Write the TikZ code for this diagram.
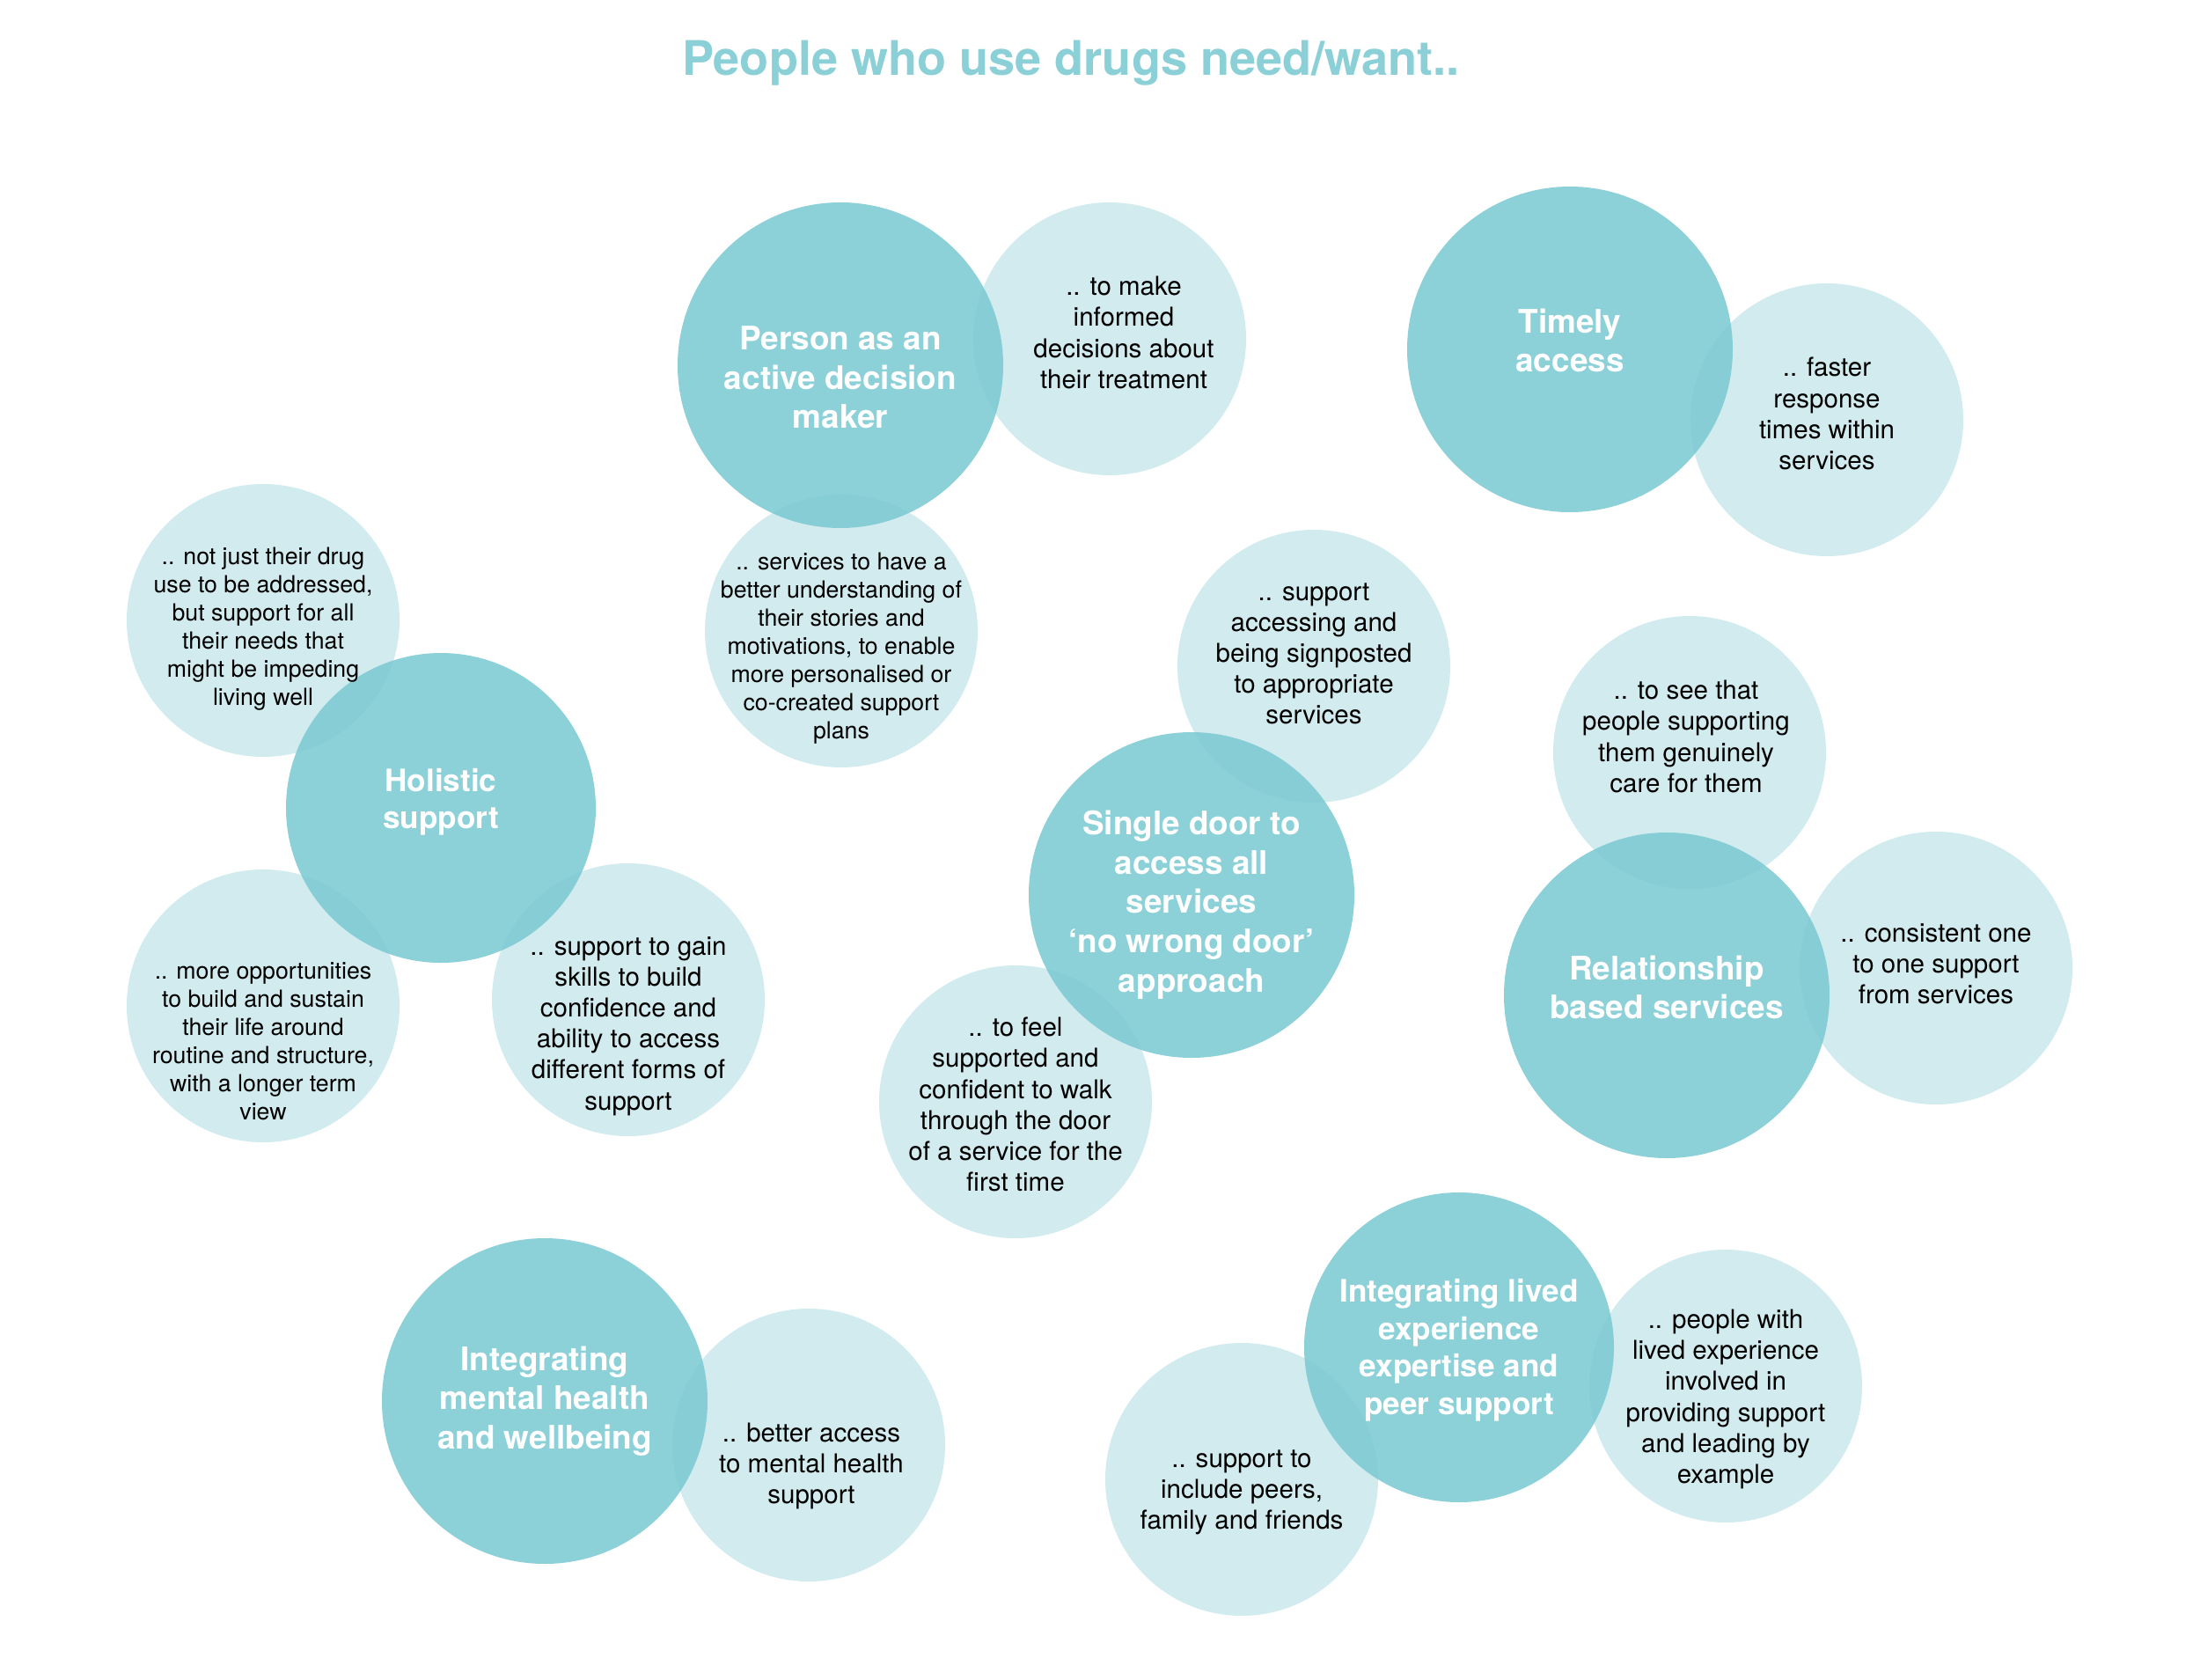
\documentclass[tikz,border=0pt]{standalone}
\usepackage{fontspec}
\setmainfont{TeX Gyre Heros}
\usepackage{xcolor}
\definecolor{needteal}{HTML}{80CBD4}
\definecolor{needpale}{HTML}{CCE9EC}
\definecolor{titleteal}{HTML}{8BCFD7}

\begin{document}
\begin{tikzpicture}[
  need/.style={circle,fill=needteal,fill opacity=0.9,minimum size=3.7cm,inner sep=0pt},
  want/.style={circle,fill=needpale,fill opacity=0.9,minimum size=3.1cm,inner sep=0pt},
  needtxt/.style={align=center,text=white,font=\fontsize{10.5}{12.7}\selectfont\bfseries},
  needsmall/.style={align=center,text=white,font=\fontsize{10}{12.1}\selectfont\bfseries},
  wanttxt/.style={align=center,text=black,font=\fontsize{8.4}{10}\selectfont},
  wantsmall/.style={align=center,text=black,font=\fontsize{7.6}{9.1}\selectfont}
]
\useasboundingbox (0,0) rectangle (25,-19.08);

\node[text=titleteal,font=\fontsize{15.4}{18}\selectfont\bfseries] (title) at (12.17,-0.72) {People who use drugs need/want..};

% pale circles
\node[want] (make) at (12.61,-3.85) {};
\node[want] (faster) at (20.76,-4.77) {};
\node[want] (story) at (9.56,-7.17) {};
\node[want] (signpost) at (14.93,-7.57) {};
\node[want] (care) at (19.20,-8.55) {};
\node[want] (onetoone) at (22.00,-11.00) {};
\node[want] (notjust) at (2.99,-7.05) {};
\node[want] (routine) at (2.99,-11.43) {};
\node[want] (skills) at (7.14,-11.36) {};
\node[want] (feel) at (11.54,-12.52) {};
\node[want] (mhaccess) at (9.19,-16.42) {};
\node[want] (leading) at (19.61,-15.75) {};
\node[want] (peers) at (14.11,-16.81) {};

% teal circles
\node[need] (person) at (9.55,-4.15) {};
\node[need] (timely) at (17.84,-3.97) {};
\node[need,minimum size=3.52cm] (holistic) at (5.01,-9.18) {};
\node[need] (door) at (13.54,-10.17) {};
\node[need] (relation) at (18.94,-11.31) {};
\node[need] (mental) at (6.19,-15.92) {};
\node[need,minimum size=3.52cm] (lived) at (16.58,-15.31) {};

% needs
\node[needtxt,yshift=-1.4mm] (person-t) at (person) {Person as an\\active decision\\maker};
\node[needtxt,yshift=1mm] (timely-t) at (timely) {Timely\\access};
\node[needsmall,yshift=0.7mm] (holistic-t) at (holistic) {Holistic\\support};
\node[needtxt,yshift=-1.1mm] (door-t) at (door) {Single door to\\access all\\services\\`no wrong door'\\approach};
\node[needtxt,yshift=0.9mm] (relation-t) at (relation) {Relationship\\based services};
\node[needtxt] (mental-t) at (mental) {Integrating\\mental health\\and wellbeing};
\node[needsmall,yshift=-0.3mm] (lived-t) at (lived) {Integrating lived\\experience\\expertise and\\peer support};

% wants
\node[wanttxt,xshift=1.6mm,yshift=0.7mm] (make-t) at (make) {.. to make\\informed\\decisions about\\their treatment};
\node[wanttxt,yshift=0.7mm] (faster-t) at (faster) {.. faster\\response\\times within\\services};
\node[wantsmall,yshift=-2mm] (story-t) at (story) {.. services to have a\\better understanding of\\their stories and\\motivations, to enable\\more personalised or\\co-created support\\plans};
\node[wanttxt,yshift=1.4mm] (signpost-t) at (signpost) {.. support\\accessing and\\being signposted\\to appropriate\\services};
\node[wanttxt,xshift=-0.4mm,yshift=1.8mm] (care-t) at (care) {.. to see that\\people supporting\\them genuinely\\care for them};
\node[wanttxt,yshift=0.5mm] (onetoone-t) at (onetoone) {.. consistent one\\to one support\\from services};
\node[wantsmall,yshift=-1mm] (notjust-t) at (notjust) {.. not just their drug\\use to be addressed,\\but support for all\\their needs that\\might be impeding\\living well};
\node[wantsmall,yshift=-4mm] (routine-t) at (routine) {.. more opportunities\\to build and sustain\\their life around\\routine and structure,\\with a longer term\\view};
\node[wanttxt,yshift=-3mm] (skills-t) at (skills) {.. support to gain\\skills to build\\confidence and\\ability to access\\different forms of\\support};
\node[wanttxt,yshift=-0.3mm] (feel-t) at (feel) {.. to feel\\supported and\\confident to walk\\through the door\\of a service for the\\first time};
\node[wanttxt,xshift=0.3mm,yshift=-2.4mm] (mhaccess-t) at (mhaccess) {.. better access\\to mental health\\support};
\node[wanttxt,yshift=-1.5mm] (leading-t) at (leading) {.. people with\\lived experience\\involved in\\providing support\\and leading by\\example};
\node[wanttxt,yshift=-1.5mm] (peers-t) at (peers) {.. support to\\include peers,\\family and friends};
\end{tikzpicture}
\end{document}
